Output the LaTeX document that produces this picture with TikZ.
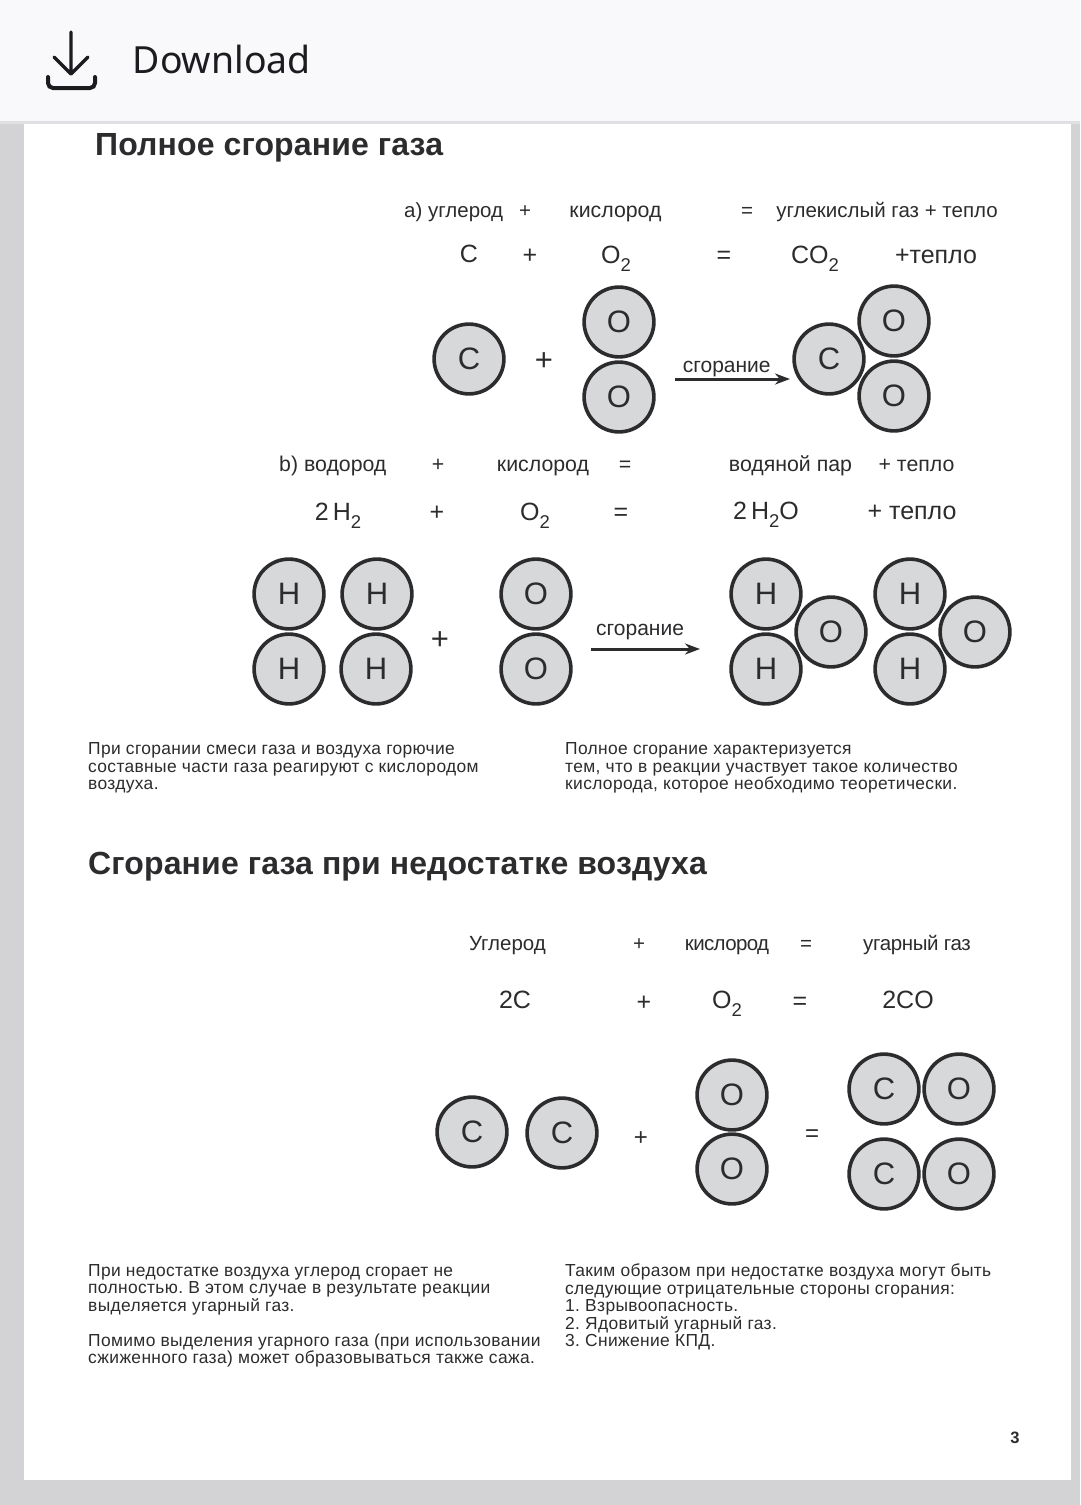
\documentclass[tikz,border=0pt]{standalone}
\usepackage{fontspec}
\setmainfont{Liberation Sans}
\newfontfamily\headfont{Noto Sans}
\usepackage{xcolor}
\usetikzlibrary{arrows.meta,positioning}
\definecolor{inkgray}{HTML}{2C2C2E}
\definecolor{atomgray}{HTML}{D7D8DA}
\definecolor{pagegray}{HTML}{D3D3D5}
\definecolor{barcolor}{HTML}{F9F9FB}
\definecolor{barline}{HTML}{E0E0E2}
\definecolor{iconink}{HTML}{1B1B20}
\newcommand{\lowtwo}{\raisebox{-0.32em}{\fontsize{18.5}{18.5}\selectfont 2}}
\newcommand{\tightfont}[1]{\addfontfeature{LetterSpace=#1}}

\begin{document}
\begin{tikzpicture}[
    x=1pt, y=-1pt,
    atom/.style={circle, draw=inkgray, fill=atomgray, line width=3.6pt, inner sep=0pt, minimum size=69.8pt, text=inkgray, font=\fontsize{31}{31}\selectfont},
    bigtitle/.style={anchor=base west, inner sep=0pt, text=inkgray, font=\fontsize{32}{32}\selectfont\bfseries\addfontfeature{LetterSpace=0.4}},
    wordeq/.style={anchor=base, inner sep=0pt, text=inkgray, font=\fontsize{20.5}{20.5}\selectfont},
    wordeqb/.style={wordeq, font=\fontsize{21.3}{21.3}\selectfont},
    symeq/.style={anchor=base, inner sep=0pt, text=inkgray, font=\fontsize{25}{25}\selectfont},
    sign/.style={anchor=center, inner sep=0pt, text=inkgray, font=\fontsize{31}{31}\selectfont},
    signsmall/.style={sign, font=\fontsize{24}{24}\selectfont},
    para/.style={anchor=north west, inner sep=0pt, align=left, text=inkgray, font=\fontsize{17.4}{17.5}\selectfont\addfontfeature{LetterSpace=2}\frenchspacing},
    burnarrow/.style={-{Stealth[length=15pt,width=11pt]}, draw=inkgray, line width=3pt},
    ]

    %Page
    \fill[pagegray] (0,0) rectangle (1080,1505);
    \fill[white] (24,121) rectangle (1071,1480);
    \fill[barcolor] (0,0) rectangle (1080,121);
    \fill[barline] (0,121) rectangle (1080,124);
    \useasboundingbox (0,0) rectangle (1080,1505);

    %Download bar
    \draw[iconink, line width=3.4pt, line cap=round, line join=round] (71,32) -- (71,74) (54,57) -- (71,74) -- (88,57);
    \draw[iconink, line width=4pt, line cap=round, rounded corners=5pt] (48,77) -- (48,88) -- (95,88) -- (95,77);
    \node[anchor=base west, inner sep=0pt, text=iconink, font=\headfont\fontsize{37.4}{37.4}\selectfont] (download) at (132.5,73.5) {Download};

    %Titles
    \node[bigtitle] (title1) at (95,155) {Полное сгорание газа};
    \node[bigtitle] (title2) at (88,874) {Сгорание газа при недостатке воздуха};

    %Reaction a
    \node[wordeq, anchor=base west] (a_carbon) at (404,217) {а) углерод};
    \node[wordeq]  (a_plus)    at (525,217) {+};
    \node[wordeqb] (a_oxygen)  at (615.5,217) {кислород};
    \node[wordeq]  (a_equal)   at (747,217) {=};
    \node[wordeq]  (a_product) at (887,217) {углекислый газ + тепло};

    \node[symeq] (a_C)     at (469,262) {C};
    \node[symeq] (a_plus2) at (530,263) {+};
    \node[symeq] (a_O2)    at (616,263) {O\lowtwo};
    \node[symeq] (a_eq2)   at (724,263) {=};
    \node[symeq] (a_CO2)   at (815,263) {CO\lowtwo};
    \node[symeq] (a_heat)  at (936,263) {+тепло};

    \node[atom] (a1_C)  at (469,359) {C};
    \node[sign] (a1_plus) at (544,362) {+};
    \node[atom] (a1_O1) at (619,322) {O};
    \node[atom] (a1_O2) at (619,397) {O};
    \node[atom] (a2_C)  at (829,359) {C};
    \node[atom] (a2_O1) at (894,321) {O};
    \node[atom] (a2_O2) at (894,396) {O};

    \coordinate (a_start) at (675,379);
    \coordinate (a_end)   at (790,379);
    \draw[burnarrow] (a_start) -- node[wordeq, font=\fontsize{21}{21}\selectfont, anchor=base, yshift=7pt, pos=0.45] {сгорание} (a_end);

    %Reaction b
    \node[wordeqb, anchor=base west] (b_hydrogen) at (279,471) {b) водород};
    \node[wordeqb] (b_plus)    at (438,471) {+};
    \node[wordeqb] (b_oxygen)  at (543,471) {кислород};
    \node[wordeqb] (b_equal)   at (625,471) {=};
    \node[wordeqb] (b_steam)   at (790.5,471) {водяной пар};
    \node[wordeqb] (b_heat)    at (916.5,471) {+ тепло};

    \node[symeq] (b_H2)    at (338,520) {2\,H\lowtwo};
    \node[symeq] (b_plus2) at (437,520) {+};
    \node[symeq] (b_O2)    at (535,520) {O\lowtwo};
    \node[symeq] (b_eq2)   at (621,520) {=};
    \node[symeq] (b_H2O)   at (766,519) {2\,H\lowtwo O};
    \node[symeq] (b_heat2) at (912,519) {+ тепло};

    \node[atom] (b1_H1) at (289,594) {H};
    \node[atom] (b1_H2) at (377,594) {H};
    \node[atom] (b1_H3) at (289,669) {H};
    \node[atom] (b1_H4) at (376,669) {H};
    \node[sign] (b1_plus) at (440,641) {+};
    \node[atom] (b1_O1) at (536,594) {O};
    \node[atom] (b1_O2) at (536,669) {O};
    \node[atom] (b2_H1) at (766,594) {H};
    \node[atom] (b2_H2) at (766,669) {H};
    \node[atom] (b2_O1) at (831,632) {O};
    \node[atom] (b3_H1) at (910,594) {H};
    \node[atom] (b3_H2) at (910,669) {H};
    \node[atom] (b3_O1) at (975,632) {O};

    \coordinate (b_start) at (591,649);
    \coordinate (b_end)   at (700,649);
    \draw[burnarrow] (b_start) -- node[wordeq, font=\fontsize{21}{21}\selectfont, anchor=base, yshift=14pt, pos=0.45] {сгорание} (b_end);

    %Text 1
    \node[para] (text1) at (88,742.5) {При сгорании смеси газа и воздуха горючие\\составные части газа реагируют с кислородом\\воздуха.};
    \node[para] (text2) at (565,742.5) {Полное сгорание характеризуется\\тем, что в реакции участвует такое количество\\кислорода, которое необходимо теоретически.};

    %Reaction c
    \node[wordeq] (c_carbon)  at (507.5,950) {Углерод};
    \node[wordeq] (c_plus)    at (639,950) {+};
    \node[wordeq] (c_oxygen)  at (727,950) {\tightfont{-3}кислород};
    \node[wordeq] (c_equal)   at (806,950) {=};
    \node[wordeq] (c_product) at (917,950) {\tightfont{-1.8}угарный газ};

    \node[symeq] (c_2C)    at (515,1008) {2C};
    \node[symeq] (c_plus2) at (644,1010) {+};
    \node[symeq] (c_O2)    at (727,1008) {O\lowtwo};
    \node[symeq] (c_eq2)   at (800,1009) {=};
    \node[symeq] (c_2CO)   at (908,1008) {2CO};

    \node[atom] (c1_C1) at (472,1132) {C};
    \node[atom] (c1_C2) at (562,1133) {C};
    \node[signsmall] (c1_plus) at (641,1139) {+};
    \node[atom] (c1_O1) at (732,1095) {O};
    \node[atom] (c1_O2) at (732,1169) {O};
    \node[signsmall] (c1_eq) at (812,1136) {=};
    \node[atom] (c2_C1) at (884,1089) {C};
    \node[atom] (c2_O1) at (959,1089) {O};
    \node[atom] (c2_C2) at (884,1174) {C};
    \node[atom] (c2_O2) at (959,1174) {O};

    %Text 2
    \node[para] (text3) at (88,1264) {При недостатке воздуха углерод сгорает не\\полностью. В этом случае в результате реакции\\выделяется угарный газ.\\[17.5pt]Помимо выделения угарного газа (при использовании\\сжиженного газа) может образовываться также сажа.};
    \node[para] (text4) at (565,1264) {Таким образом при недостатке воздуха могут быть\\следующие отрицательные стороны сгорания:\\1. Взрывоопасность.\\2. Ядовитый угарный газ.\\3. Снижение КПД.};

    \node[anchor=base, inner sep=0pt, text=inkgray, font=\fontsize{16.5}{16.5}\selectfont\bfseries] (pagenum) at (1015,1443) {3};
\end{tikzpicture}
\end{document}
